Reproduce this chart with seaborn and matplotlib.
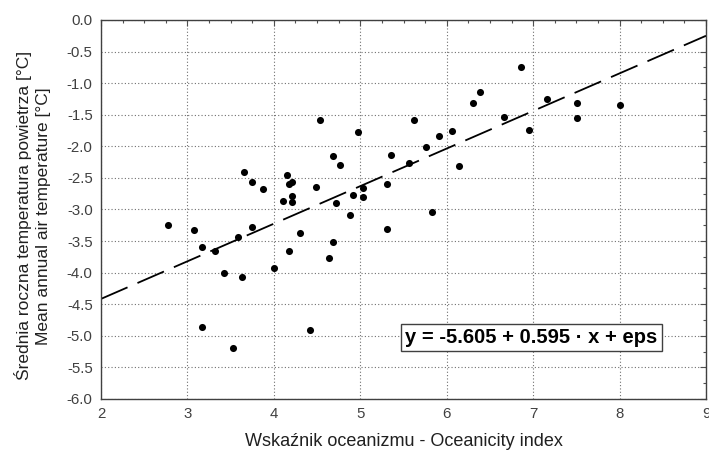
import numpy as np
import pandas as pd
import matplotlib
matplotlib.use('Agg')
import matplotlib.pyplot as plt
from matplotlib.ticker import MultipleLocator
import seaborn as sns

# --- data ------------------------------------------------------------------
oceanicity = [2.78, 3.07, 3.17, 3.17, 3.32, 3.42, 3.53, 3.58, 3.63, 3.65,
              3.75, 3.75, 3.87, 4.00, 4.10, 4.15, 4.18, 4.18, 4.21, 4.21,
              4.21, 4.30, 4.42, 4.49, 4.535, 4.64, 4.68, 4.68, 4.72, 4.77,
              4.875, 4.92, 4.97, 5.03, 5.03, 5.31, 5.31, 5.36, 5.56, 5.62,
              5.76, 5.83, 5.91, 6.06, 6.14, 6.30, 6.39, 6.66, 6.86, 6.95,
              7.16, 7.51, 7.51, 8.01]
temperature = [-3.24, -3.33, -3.59, -4.86, -3.66, -4.01, -5.20, -3.43, -4.07, -2.41,
               -2.57, -3.28, -2.68, -3.93, -2.87, -2.45, -2.59, -3.65, -2.57, -2.78,
               -2.88, -3.37, -4.905, -2.65, -1.58, -3.77, -2.16, -3.51, -2.90, -2.29,
               -3.08, -2.77, -1.77, -2.66, -2.81, -2.59, -3.31, -2.13, -2.27, -1.58,
               -2.01, -3.04, -1.83, -1.75, -2.31, -1.32, -1.14, -1.53, -0.74, -1.74,
               -1.25, -1.32, -1.55, -1.35]

intercept = -5.605
slope = 0.595
fit_x = [2, 9]

x_ticks = [2, 3, 4, 5, 6, 7, 8, 9]
y_ticks = [0.0, -0.5, -1.0, -1.5, -2.0, -2.5, -3.0, -3.5, -4.0, -4.5, -5.0, -5.5, -6.0]

df = pd.DataFrame({'x': oceanicity, 'y': temperature})

# --- style -----------------------------------------------------------------
sns.set_style('white')
plt.rcParams['font.family'] = ['Liberation Sans', 'DejaVu Sans']

fig = plt.figure(figsize=(7.09, 4.51), dpi=100)
ax = fig.add_axes([0.1425, 0.1153, 0.8533, 0.8404])

# regression line
line_y = [intercept + slope * v for v in fit_x]
ax.plot(fit_x, line_y, color='black', lw=1.3, dashes=(16, 6), zorder=2)

sns.scatterplot(data=df, x='x', y='y', ax=ax, color='black', s=26,
                edgecolor='black', linewidth=0, zorder=3)

ax.set_xlim(2, 9)
ax.set_ylim(-6, 0)
ax.set_xticks(x_ticks)
ax.set_yticks(y_ticks)
ax.set_xticklabels([str(t) for t in x_ticks])
ax.set_yticklabels([f'{t:.1f}' for t in y_ticks])
ax.xaxis.set_minor_locator(MultipleLocator(0.25))
ax.yaxis.set_minor_locator(MultipleLocator(0.25))

ax.grid(True, which='major', color='#707070', linestyle=(0, (1, 2)), lw=0.8)
ax.tick_params(which='both', direction='in', top=True, right=True,
               colors='#505050', labelcolor='#404040', labelsize=10.8)
ax.tick_params(which='major', length=4, width=0.8)
ax.tick_params(which='minor', length=2.5, width=0.8)
ax.tick_params(axis='y', which='major', pad=6)
ax.tick_params(axis='x', which='major', pad=6)
for sp in ax.spines.values():
    sp.set_color('#404040')
    sp.set_linewidth(1.0)

ax.set_xlabel('Wskaźnik oceanizmu - Oceanicity index', fontsize=13, color='#202020')
ax.set_ylabel('Średnia roczna temperatura powietrza [°C]\nMean annual air temperature [°C]',
              fontsize=12.5, color='#202020', linespacing=1.4)
ax.xaxis.label.set_va('baseline')
ax.xaxis.set_label_coords(0.5, -0.124)
ax.yaxis.set_label_coords(-0.082, 0.483)

ax.text(6.98, -5.03, 'y = -5.605 + 0.595 · x + eps', fontsize=14.5, fontweight='bold',
        ha='center', va='center', color='black', zorder=4,
        bbox=dict(boxstyle='square,pad=0.2', facecolor='white', edgecolor='#404040', lw=1))

fig.savefig('out.png', dpi=100)
